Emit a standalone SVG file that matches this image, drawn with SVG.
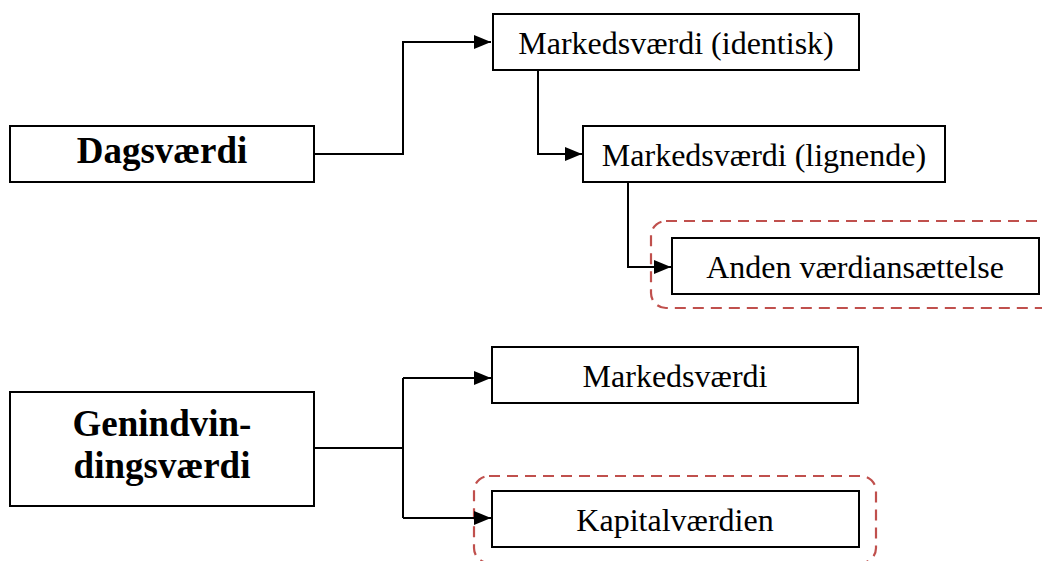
<svg xmlns="http://www.w3.org/2000/svg" width="1042" height="561" viewBox="0 0 1042 561">
<style>
.box{fill:#fff;stroke:#000;stroke-width:2}
.hl{fill:none;stroke:#C0504D;stroke-width:2.2;stroke-dasharray:11 7}
.t{font-family:"Liberation Serif","Times New Roman",serif;font-size:32px;fill:#000;text-anchor:middle}
.b{font-family:"Liberation Serif","Times New Roman",serif;font-size:37px;font-weight:bold;fill:#000;text-anchor:middle}
.c{fill:none;stroke:#000;stroke-width:2}
</style>
<defs>
<marker id="arr" markerWidth="17" markerHeight="14" refX="17" refY="7" orient="auto" markerUnits="userSpaceOnUse">
<path d="M0,0 L17,7 L0,14 Z" fill="#000"/>
</marker>
</defs>
<rect width="1042" height="561" fill="#fff"/>
<g id="highlights">
<rect class="hl" x="651" y="221" width="420" height="87" rx="15"/>
<rect class="hl" x="474" y="476" width="402" height="87" rx="15"/>
</g>
<g id="connectors">
<path class="c" d="M314,154 H403 V42 H491" marker-end="url(#arr)"/>
<path class="c" d="M538,70 V154 H582" marker-end="url(#arr)"/>
<path class="c" d="M628,182 V267 H671" marker-end="url(#arr)"/>
<path class="c" d="M314,448 H403"/>
<path class="c" d="M403,378 V518"/>
<path class="c" d="M403,378 H491" marker-end="url(#arr)"/>
<path class="c" d="M403,518 H491" marker-end="url(#arr)"/>
</g>
<g id="dagsvaerdi">
<rect class="box" x="10" y="126" width="304" height="56"/>
<text class="b" x="162" y="163">Dagsværdi</text>
</g>
<g id="markedsvaerdi-identisk">
<rect class="box" x="493" y="14" width="366" height="56"/>
<text class="t" x="676" y="54">Markedsværdi (identisk)</text>
</g>
<g id="markedsvaerdi-lignende">
<rect class="box" x="583" y="126" width="362" height="56"/>
<text class="t" x="764" y="166">Markedsværdi (lignende)</text>
</g>
<g id="anden-vaerdiansaettelse">
<rect class="box" x="672" y="238" width="367" height="56"/>
<text class="t" x="855" y="278">Anden værdiansættelse</text>
</g>
<g id="genindvindingsvaerdi">
<rect class="box" x="10" y="392" width="304" height="114"/>
<text class="b" x="162" y="436">Genindvin-</text>
<text class="b" x="162" y="478">dingsværdi</text>
</g>
<g id="markedsvaerdi">
<rect class="box" x="492" y="347" width="366" height="56"/>
<text class="t" x="675" y="387">Markedsværdi</text>
</g>
<g id="kapitalvaerdien">
<rect class="box" x="492" y="491" width="367" height="56"/>
<text class="t" x="675" y="531">Kapitalværdien</text>
</g>
</svg>
